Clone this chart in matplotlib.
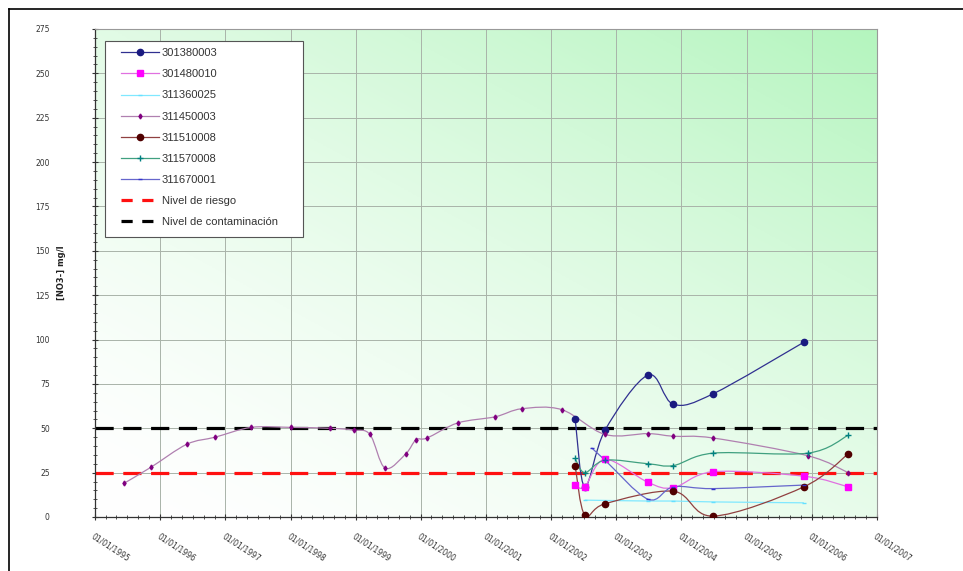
import matplotlib
matplotlib.use("Agg")
import matplotlib.pyplot as plt
import matplotlib.dates as mdates
import numpy as np
import pandas as pd
from matplotlib.lines import Line2D
from matplotlib.patches import PathPatch, Rectangle
from matplotlib.path import Path

# ---- data ----
s301380003_dates = ["2002-05-15", "2002-07-08", "2002-10-30", "2003-06-28", "2003-11-17",
                    "2004-06-28", "2005-11-17"]
s301380003_vals = [55.5, 17, 49, 80, 63.5, 69.5, 98.5]

s301480010_dates = ["2002-05-15", "2002-07-08", "2002-10-30", "2003-06-28", "2003-11-17",
                    "2004-06-28", "2005-11-17", "2006-07-23"]
s301480010_vals = [18, 17, 32.5, 19.5, 16.5, 25.5, 23, 17]

s311360025_dates = ["2002-07-08", "2003-06-28", "2003-11-17", "2004-06-28", "2005-11-17"]
s311360025_vals = [9.5, 9, 9, 8.5, 8]

s311450003_dates = ["1995-06-13", "1995-11-10", "1996-05-30", "1996-11-05", "1997-05-26",
                    "1998-01-05", "1998-08-10", "1998-12-20", "1999-03-22", "1999-06-15",
                    "1999-10-08", "1999-12-05", "2000-02-05", "2000-07-26", "2001-02-22",
                    "2001-07-20", "2002-03-01", "2002-10-30", "2003-06-28", "2003-11-17",
                    "2004-06-28", "2005-12-10", "2006-07-23"]
s311450003_vals = [19, 28, 41, 45, 50.5, 50.5, 50, 49, 46.5, 27.5, 35.5, 43.5, 44.5, 53,
                   56.5, 61, 60.5, 46.5, 47, 45.5, 44.5, 34.5, 25]

s311510008_dates = ["2002-05-15", "2002-07-08", "2002-10-30", "2003-11-17", "2004-06-28",
                    "2005-11-17", "2006-07-23"]
s311510008_vals = [29, 1, 7.5, 14.5, 0.5, 17, 35.5]

s311570008_dates = ["2002-05-15", "2002-07-08", "2002-10-30", "2003-06-28", "2003-11-17",
                    "2004-06-28", "2005-12-10", "2006-07-23"]
s311570008_vals = [33, 25, 32, 30, 29, 36, 36, 46]

s311670001_dates = ["2002-08-15", "2002-10-30", "2003-06-28", "2003-11-17", "2004-06-28",
                    "2005-11-17"]
s311670001_vals = [39, 32, 10, 17, 16, 18]

nivel_riesgo = 25
nivel_contaminacion = 50

year_ticks = list(range(1995, 2008))
y_ticks = list(range(0, 276, 25))

series = [
    ("301380003", s301380003_dates, s301380003_vals, "#1a1a80", "#303090", "o", 4.5),
    ("301480010", s301480010_dates, s301480010_vals, "#ff00ff", "#e070e0", "s", 5),
    ("311360025", s311360025_dates, s311360025_vals, "#66e0ff", "#80e8ff", "_", 3),
    ("311450003", s311450003_dates, s311450003_vals, "#800080", "#b080b0", "d", 2.5),
    ("311510008", s311510008_dates, s311510008_vals, "#500000", "#904040", "o", 4.5),
    ("311570008", s311570008_dates, s311570008_vals, "#008080", "#40a080", "+", 4),
    ("311670001", s311670001_dates, s311670001_vals, "#3333cc", "#6666cc", "_", 3),
]

W, H = 963, 571
AX_L, AX_R, AX_T, AX_B = 95, 877, 29, 517


def smooth_path(xs, ys):
    # Excel-like smoothed line: Catmull-Rom segments as cubic Bezier curves
    pts = np.column_stack([xs, ys])
    verts = [pts[0]]
    codes = [Path.MOVETO]
    n = len(pts)
    for i in range(n - 1):
        p0 = pts[i - 1] if i > 0 else pts[i]
        p1, p2 = pts[i], pts[i + 1]
        p3 = pts[i + 2] if i + 2 < n else pts[i + 1]
        verts += [p1 + (p2 - p0) / 6, p2 - (p3 - p1) / 6, p2]
        codes += [Path.CURVE4] * 3
    return Path(verts, codes)


def ax_frac(px, py):
    return (px - AX_L) / (AX_R - AX_L), (AX_B - py) / (AX_B - AX_T)


fig = plt.figure(figsize=(W / 100, H / 100), dpi=100)
ax = fig.add_axes([AX_L / W, 1 - AX_B / H, (AX_R - AX_L) / W, (AX_B - AX_T) / H])

# gradient background: white bottom-left -> light green top-right
gx, gy = np.meshgrid(np.linspace(0, 1, 200), np.linspace(0, 1, 200))
t = np.clip((gx * 0.7 + gy * 0.8) / 1.5, 0, 1) ** 1.5
white = np.array([1.0, 1.0, 1.0])
green = np.array([180, 245, 190]) / 255
img = white[None, None, :] * (1 - t[..., None]) + green[None, None, :] * t[..., None]
ax.imshow(img, extent=[0, 1, 0, 1], transform=ax.transAxes, origin="lower",
          aspect="auto", zorder=0)

xmin = mdates.date2num(pd.Timestamp("1995-01-01"))
xmax = mdates.date2num(pd.Timestamp("2007-01-01"))

dash = (5.7, 3.0)
ax.axhline(nivel_riesgo, color="#ff1010", lw=2.3, dashes=dash, zorder=2)
ax.axhline(nivel_contaminacion, color="black", lw=2.3, dashes=dash, zorder=2)

handles = []
for label, dates, vals, mcol, lcol, marker, ms in series:
    x = mdates.date2num(pd.to_datetime(dates))
    ax.add_patch(PathPatch(smooth_path(x, np.array(vals, float)), fc="none",
                           ec=lcol, lw=0.9, zorder=3))
    ax.plot(x, vals, ls="none", marker=marker, ms=ms, color=mcol, mec=mcol,
            mew=1.0, zorder=4)
    handles.append(Line2D([], [], color=lcol, lw=0.9, marker=marker, ms=ms,
                          mfc=mcol, mec=mcol, label=label))
handles.append(Line2D([], [], color="#ff1010", lw=2.3, dashes=(3.5, 3.0),
                      label="Nivel de riesgo"))
handles.append(Line2D([], [], color="black", lw=2.3, dashes=(3.5, 3.0),
                      label="Nivel de contaminación"))

ax.set_xlim(xmin, xmax)
ax.set_ylim(0, 275)

ax.set_xticks(mdates.date2num([pd.Timestamp(f"{y}-01-01") for y in year_ticks]))
ax.xaxis.set_major_formatter(mdates.DateFormatter("%d/%m/%Y"))
ax.xaxis.set_minor_locator(mdates.MonthLocator(bymonth=[3, 5, 7, 9, 11]))
ax.set_yticks(y_ticks)
ax.yaxis.set_minor_locator(matplotlib.ticker.MultipleLocator(5))

# grid (and axis) drawn below the reference lines and series
ax.set_axisbelow(True)
ax.grid(True, which="major", color="#a9b3a9", lw=0.7)

ax.tick_params(axis="both", which="major", direction="inout", length=5, width=0.8,
               labelsize=5.5, labelcolor="#333333", color="#333333")
ax.tick_params(axis="both", which="minor", direction="inout", length=3, width=0.6,
               color="#333333")
ax.tick_params(axis="y", pad=30)
for lab in ax.get_xticklabels():
    lab.set_rotation(-33)
    lab.set_ha("left")
    lab.set_va("top")
    lab.set_rotation_mode("anchor")
ax.tick_params(axis="x", pad=8)

ax.set_ylabel("[NO3-] mg/l", fontsize=6, fontweight="bold", color="#222222")
ax.yaxis.set_label_coords((66 - AX_L) / (AX_R - AX_L), 0.5)

for side in ("top", "right"):
    ax.spines[side].set_color("#999999")
    ax.spines[side].set_linewidth(0.8)
for side in ("left", "bottom"):
    ax.spines[side].set_color("#333333")
    ax.spines[side].set_linewidth(0.9)

# legend: manual frame, entries placed inside it
fx0, fy0 = ax_frac(105, 237)
fx1, fy1 = ax_frac(303, 41)
ax.add_patch(Rectangle((fx0, fy0), fx1 - fx0, fy1 - fy0, transform=ax.transAxes,
                       fc="white", ec="#555555", lw=0.8, zorder=5))
lx, ly = ax_frac(119, 46)
leg = ax.legend(handles=handles, loc="upper left", bbox_to_anchor=(lx, ly),
                borderaxespad=0, prop={"family": "Liberation Sans", "size": 8},
                labelspacing=1.0, handlelength=3.4, handletextpad=0.25,
                borderpad=0.2, frameon=False)
leg.set_zorder(6)
for txt in leg.get_texts():
    txt.set_color("#333333")

# outer chart frame (left and top edges)
fig.add_artist(Line2D([8.5 / W, 8.5 / W], [0, 1 - 9 / H], transform=fig.transFigure,
                      color="black", lw=1.2))
fig.add_artist(Line2D([8.5 / W, 1], [1 - 9 / H, 1 - 9 / H], transform=fig.transFigure,
                      color="black", lw=1.2))

fig.savefig("out.png", dpi=100)
